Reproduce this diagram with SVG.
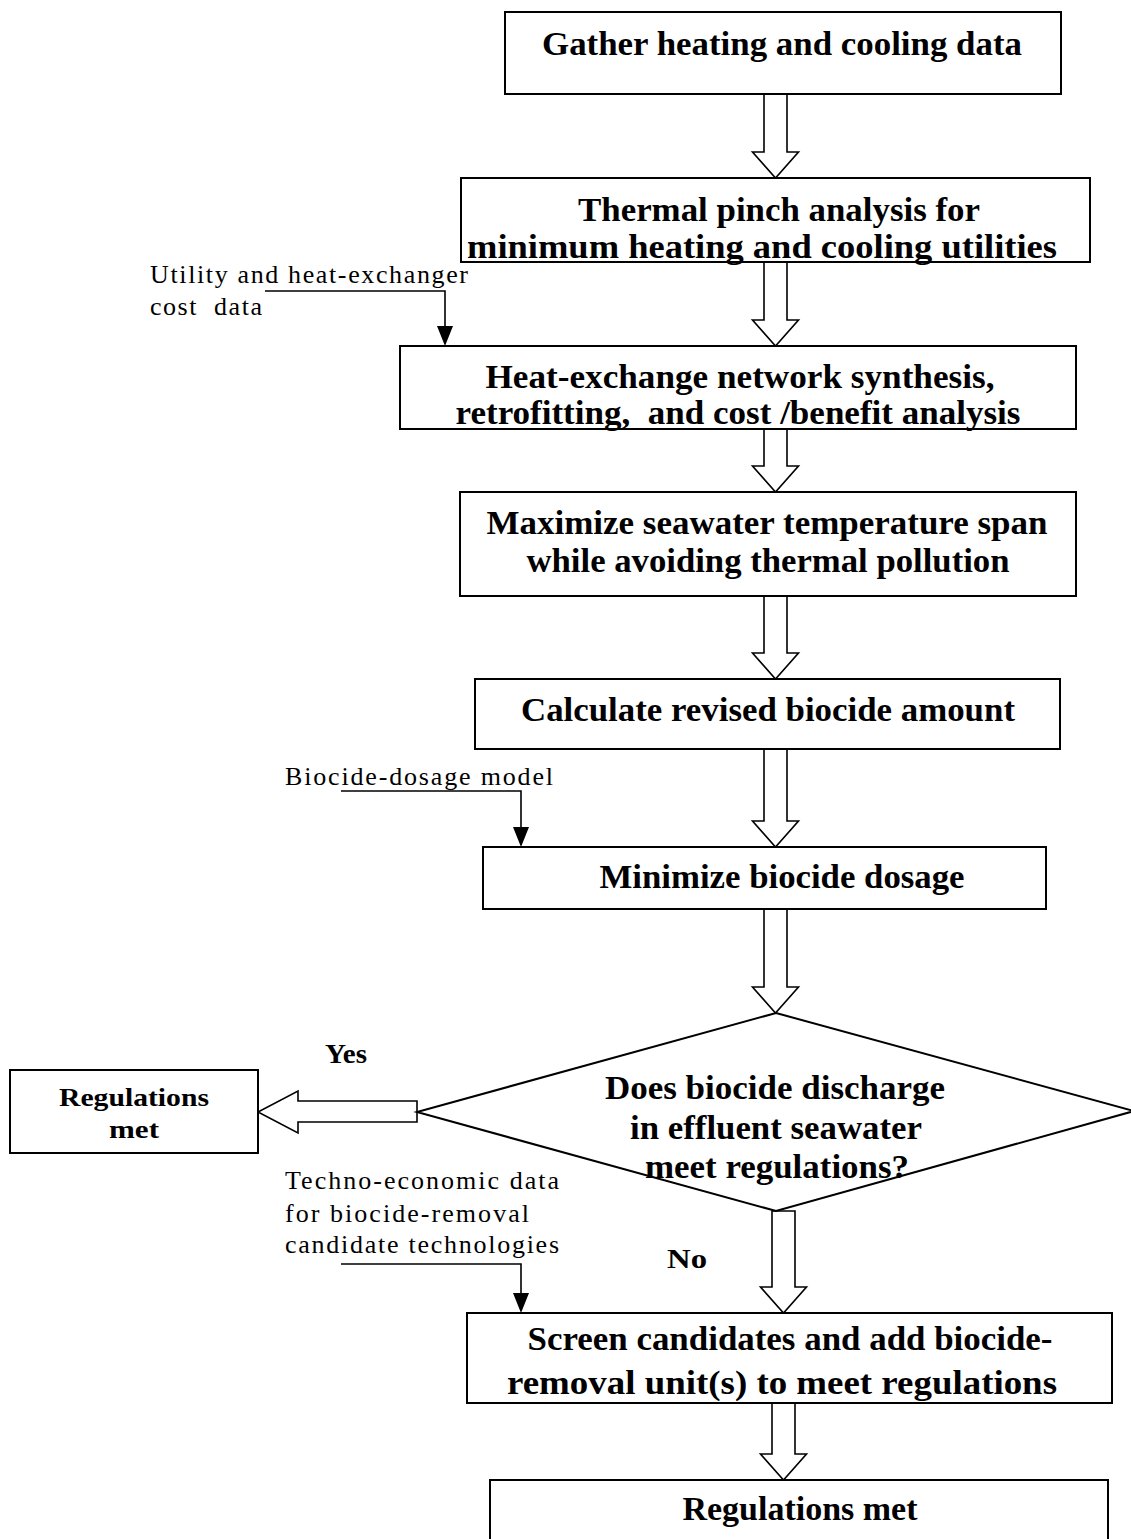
<svg xmlns="http://www.w3.org/2000/svg" width="1131" height="1539" viewBox="0 0 1131 1539">
  <style>
    .box { fill: #fff; stroke: #000; stroke-width: 2; }
    .dia { fill: #fff; stroke: #000; stroke-width: 2; }
    .hollow { fill: #fff; stroke: #000; stroke-width: 1.6; stroke-linejoin: miter; }
    .feed { fill: none; stroke: #000; stroke-width: 1.6; }
    .head { fill: #000; }
    .t { font-family: "Liberation Serif", "Times New Roman", serif; font-weight: bold; font-size: 33px; text-anchor: middle; fill: #000; }
    .ts { font-family: "Liberation Serif", "Times New Roman", serif; font-weight: bold; font-size: 26px; fill: #000; }
    .lbl { font-family: "Liberation Serif", "Times New Roman", serif; font-size: 26px; fill: #000; }
  </style>
  <rect x="0" y="0" width="1131" height="1539" fill="#fff"/>

  <!-- flow connectors: hollow block arrows and side-input feeds -->
  <g id="connectors">
    <path class="hollow" d="M764,94 V152 H752.5 L775.5,178 L798.5,152 H787 V94 Z"/>
    <path class="hollow" d="M764,262 V320 H752.5 L775.5,346 L798.5,320 H787 V262 Z"/>
    <path class="hollow" d="M764,429 V466 H752.5 L775.5,492 L798.5,466 H787 V429 Z"/>
    <path class="hollow" d="M764,596 V653 H752.5 L775.5,679 L798.5,653 H787 V596 Z"/>
    <path class="hollow" d="M764,749 V821 H752.5 L775.5,847 L798.5,821 H787 V749 Z"/>
    <path class="hollow" d="M764,909 V987 H752.5 L775.5,1013 L798.5,987 H787 V909 Z"/>
    <path class="hollow" d="M772,1211 V1287 H760.5 L783.5,1313 L806.5,1287 H795 V1211 Z"/>
    <path class="hollow" d="M772,1403 V1454 H760.5 L783.5,1480 L806.5,1454 H795 V1403 Z"/>
    <path class="hollow" d="M417,1101 H298 V1091 L258,1112 L298,1133 V1122 H417 Z"/>

    <path class="feed" d="M265,291 H445 V328"/>
    <polygon class="head" points="437,326 453,326 445,346"/>
    <path class="feed" d="M341,791 H521 V829"/>
    <polygon class="head" points="513,827 529,827 521,847"/>
    <path class="feed" d="M341,1264 H521 V1295"/>
    <polygon class="head" points="513,1293 529,1293 521,1313"/>

    <text class="t" x="325" y="1063" style="text-anchor:start;font-size:27px" textLength="42" lengthAdjust="spacingAndGlyphs">Yes</text>
    <text class="t" x="667" y="1268" style="text-anchor:start;font-size:28px" textLength="40" lengthAdjust="spacingAndGlyphs">No</text>
  </g>

  <!-- side inputs -->
  <g id="input-cost">
    <text class="lbl" x="150" y="283" textLength="318" lengthAdjust="spacing">Utility and heat-exchanger</text>
    <text class="lbl" x="150" y="315" textLength="112" lengthAdjust="spacing">cost&#160; data</text>
  </g>
  <g id="input-dosage">
    <text class="lbl" x="285" y="785" textLength="268" lengthAdjust="spacing">Biocide-dosage model</text>
  </g>
  <g id="input-techno">
    <text class="lbl" x="285" y="1189" textLength="274" lengthAdjust="spacing">Techno-economic data</text>
    <text class="lbl" x="285" y="1222" textLength="244" lengthAdjust="spacing">for biocide-removal</text>
    <text class="lbl" x="285" y="1253" textLength="274" lengthAdjust="spacing">candidate technologies</text>
  </g>

  <g id="gather">
    <rect class="box" x="505" y="12" width="556" height="82"/>
    <text class="t" x="782" y="55" textLength="480" lengthAdjust="spacingAndGlyphs">Gather heating and cooling data</text>
  </g>
  <g id="pinch">
    <rect class="box" x="461" y="178" width="629" height="84"/>
    <text class="t" x="779" y="221" textLength="402" lengthAdjust="spacingAndGlyphs">Thermal pinch analysis for</text>
    <text class="t" x="762" y="258" textLength="590" lengthAdjust="spacingAndGlyphs">minimum heating and cooling utilities</text>
  </g>
  <g id="hen">
    <rect class="box" x="400" y="346" width="676" height="83"/>
    <text class="t" x="740" y="388" textLength="509" lengthAdjust="spacingAndGlyphs">Heat-exchange network synthesis,</text>
    <text class="t" x="738" y="424" textLength="565" lengthAdjust="spacingAndGlyphs">retrofitting,&#160; and cost /benefit analysis</text>
  </g>
  <g id="span">
    <rect class="box" x="460" y="492" width="616" height="104"/>
    <text class="t" x="767" y="534" textLength="561" lengthAdjust="spacingAndGlyphs">Maximize seawater temperature span</text>
    <text class="t" x="768" y="572" textLength="483" lengthAdjust="spacingAndGlyphs">while avoiding thermal pollution</text>
  </g>
  <g id="revised">
    <rect class="box" x="475" y="679" width="585" height="70"/>
    <text class="t" x="768" y="721" textLength="494" lengthAdjust="spacingAndGlyphs">Calculate revised biocide amount</text>
  </g>
  <g id="minimize">
    <rect class="box" x="483" y="847" width="563" height="62"/>
    <text class="t" x="782" y="888" textLength="365" lengthAdjust="spacingAndGlyphs">Minimize biocide dosage</text>
  </g>
  <g id="decision">
    <path class="dia" d="M776,1013 L1134,1111 L776,1211 L417,1112 Z"/>
    <text class="t" x="775" y="1099" textLength="340" lengthAdjust="spacingAndGlyphs">Does biocide discharge</text>
    <text class="t" x="776" y="1139" textLength="292" lengthAdjust="spacingAndGlyphs">in effluent seawater</text>
    <text class="t" x="777" y="1178" textLength="264" lengthAdjust="spacingAndGlyphs">meet regulations?</text>
  </g>
  <g id="met-yes">
    <rect class="box" x="10" y="1070" width="248" height="83"/>
    <text class="ts" x="134" y="1106" style="text-anchor:middle" textLength="150" lengthAdjust="spacingAndGlyphs">Regulations</text>
    <text class="ts" x="134" y="1138" style="text-anchor:middle" textLength="50" lengthAdjust="spacingAndGlyphs">met</text>
  </g>
  <g id="screen">
    <rect class="box" x="467" y="1313" width="645" height="90"/>
    <text class="t" x="790" y="1350" textLength="525" lengthAdjust="spacingAndGlyphs">Screen candidates and add biocide-</text>
    <text class="t" x="782" y="1394" textLength="550" lengthAdjust="spacingAndGlyphs">removal unit(s) to meet regulations</text>
  </g>
  <g id="met-final">
    <rect class="box" x="490" y="1480" width="618" height="80"/>
    <text class="t" x="800" y="1520" textLength="235" lengthAdjust="spacingAndGlyphs">Regulations met</text>
  </g>
</svg>
